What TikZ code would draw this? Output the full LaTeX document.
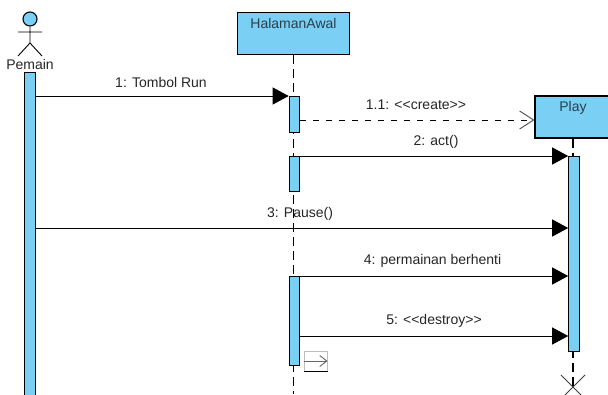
\documentclass[tikz,border=0pt]{standalone}
\usepackage{fontspec}
\setmainfont{Liberation Sans}
\usetikzlibrary{arrows.meta}
\definecolor{barblue}{HTML}{7ACFF5}
\definecolor{labelgrey}{HTML}{2B3F4C}
\tikzset{
    headbox/.style={draw,fill=barblue,line width=1.1pt,minimum width=#1,minimum height=42pt,inner sep=0pt},
    activebar/.style={draw,fill=barblue,line width=1.1pt,minimum width=10.5pt,inner sep=0pt,anchor=north},
    lifeline/.style={line width=1.1pt,dash pattern=on 9pt off 5pt},
    sendarrow/.style={line width=0.9pt,-{Triangle[length=16pt,width=17pt]}},
    createarrow/.style={line width=0.9pt,dash pattern=on 6pt off 7pt,-{Straight Barb[length=14pt,width=18pt,line width=0.9pt,black!70]}},
    msgtext/.style={font=\fontsize{14}{16}\selectfont,text=black!85}
}
\begin{document}
\begin{tikzpicture}[x=1pt,y=-1pt]
    \path[use as bounding box,clip] (0,0) rectangle (608,394);
    \fill[white] (0,0) rectangle (608,394);
    % actor
    \node[draw,circle,fill=barblue,line width=1.1pt,minimum size=14pt,inner sep=0pt] (head) at (30,19) {};
    \coordinate (hip) at (30,43);
    \coordinate (armL) at (18,32);
    \coordinate (armR) at (42,32);
    \coordinate (footL) at (18,56);
    \coordinate (footR) at (42,56);
    \draw[line width=0.9pt] (head.south) -- (hip) (armL) -- (armR) (footL) -- (hip) -- (footR);
    \node[msgtext,inner sep=0pt] (pemain) at (30,64.5) {Pemain};
    % head boxes and lifelines
    \node[headbox=112.5pt] (awal) at (293.5,33.5) {};
    \node[msgtext,text=labelgrey,inner sep=0pt] (awaltext) at (293.5,23) {HalamanAwal};
    \node[headbox=76pt] (play) at (573,117) {};
    \node[msgtext,text=labelgrey,inner sep=0pt] (playtext) at (573,107.5) {Play};
    \coordinate (awalend) at (awal.south |- 0,394);
    \coordinate (xmark) at (573,387);
    \draw[lifeline] (awal.south) -- (awalend);
    \draw[lifeline] (play.south) -- (xmark);
    % activation bars
    \foreach \name/\xpos/\ypos/\len in {barpemain/30/72/330, barA/294.5/96/36, barB/294.5/156/35, barC/294.5/276/89, barplay/574/156/195} {
        \node[activebar,minimum height=\len pt] (\name) at (\xpos,\ypos) {};
    }
    % messages
    \coordinate (row1) at (0,96);
    \coordinate (row2) at (0,120);
    \coordinate (row3) at (0,228);
    \coordinate (row5) at (0,336);
    \draw[sendarrow] (barpemain.east |- row1) -- (barA.north west);
    \draw[createarrow] (barA.east |- row2) -- (play.west |- row2);
    \draw[sendarrow] (barB.north east) -- (barplay.north west);
    \draw[sendarrow] (barpemain.east |- row3) -- (barplay.west |- row3);
    \draw[sendarrow] (barC.north east) -- (barplay.west |- barC.north);
    \draw[sendarrow] (barC.east |- row5) -- (barplay.west |- row5);
    \foreach \name/\xpos/\ypos/\text in {m1/161/82/{1: Tombol Run}, m2/416/105/{1.1: <{}<create>{}>}, m3/436/142/{2: act()}, m4/300/214/{3: Pause()}, m5/432.5/261/{4: permainan berhenti}, m6/434/321/{5: <{}<destroy>{}>}} {
        \node[msgtext,inner sep=0pt] (\name) at (\xpos,\ypos) {\text};
    }
    % destroy mark
    \coordinate (xNW) at (561,375);
    \coordinate (xNE) at (585,375);
    \coordinate (xSW) at (561,399);
    \coordinate (xSE) at (585,399);
    \draw[line width=1pt,black!75] (xNW) -- (xSE) (xNE) -- (xSW);
    % small resource icon
    \node[draw=black!25,line width=1pt,minimum width=23pt,minimum height=20pt,inner sep=0pt] (icon) at (315.5,361) {};
    \draw[line width=1pt,black!60,-{Straight Barb[length=7pt,width=11pt,line width=0.9pt]}] (icon.west) -- (icon.east);
    \draw[line width=1pt] (icon.south west) -- (icon.south east);
\end{tikzpicture}
\end{document}
